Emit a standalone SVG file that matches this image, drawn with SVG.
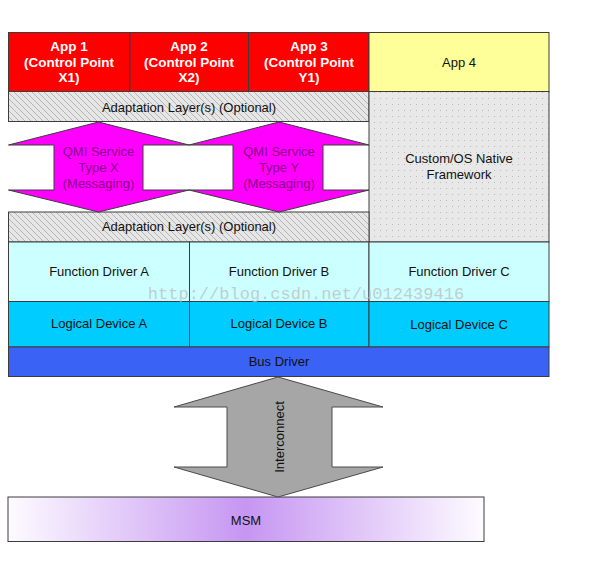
<svg xmlns="http://www.w3.org/2000/svg" width="593" height="564" viewBox="0 0 593 564">
<style>
text{font-family:"Liberation Sans",Arial,sans-serif;font-size:13px;text-anchor:middle;fill:#111}
.box{stroke:#3c3c3c;stroke-width:1}
.app{fill:#FF0000}
.apptxt{fill:#fff;font-weight:bold;font-size:13.5px}
.fd{fill:#CCFFFF}
.ld{fill:#00CCFF}
.qmi{fill:#FF00FF;stroke:#3c3c3c;stroke-width:1}
.qmitxt{fill:#8a008a}
.ic{fill:#A6A6A6;stroke:#4a4a4a;stroke-width:1}
</style>
<defs>
<pattern id="hatch" patternUnits="userSpaceOnUse" width="6" height="6">
<rect width="6" height="6" fill="#E6E6E6"/>
<path d="M-1,-1 L7,7 M-1,5 L1,7 M5,-1 L7,1" stroke="#A8A8A8" stroke-width="0.8"/>
</pattern>
<pattern id="dots" patternUnits="userSpaceOnUse" width="6" height="6">
<rect width="6" height="6" fill="#E8E8E8"/>
<rect x="2" y="2" width="1" height="1" fill="#B8B8B8"/>
</pattern>
<linearGradient id="msm" x1="0" y1="0" x2="1" y2="0">
<stop offset="0" stop-color="#FDFBFF"/>
<stop offset="0.5" stop-color="#C696F2"/>
<stop offset="1" stop-color="#FDFBFF"/>
</linearGradient>
</defs>
<rect width="593" height="564" fill="#fff"/>

<g id="app1"><rect class="box app" x="8.5" y="32.5" width="121.5" height="59"/>
<text class="apptxt" x="69" y="51">App 1</text><text class="apptxt" x="69" y="66.5">(Control Point</text><text class="apptxt" x="69" y="82">X1)</text></g>
<g id="app2"><rect class="box app" x="130" y="32.5" width="118.5" height="59"/>
<text class="apptxt" x="189" y="51">App 2</text><text class="apptxt" x="189" y="66.5">(Control Point</text><text class="apptxt" x="189" y="82">X2)</text></g>
<g id="app3"><rect class="box app" x="248.5" y="32.5" width="120.5" height="59"/>
<text class="apptxt" x="309" y="51">App 3</text><text class="apptxt" x="309" y="66.5">(Control Point</text><text class="apptxt" x="309" y="82">Y1)</text></g>
<g id="app4"><rect class="box" fill="#FFFF99" x="369" y="32.5" width="180" height="59"/>
<text x="459" y="67">App 4</text></g>

<g id="adapt1"><rect class="box" fill="url(#hatch)" x="8.5" y="91.5" width="360.5" height="30"/>
<text x="189" y="112">Adaptation Layer(s) (Optional)</text></g>
<g id="custom"><rect class="box" fill="url(#dots)" x="369" y="91.5" width="180" height="150.5"/>
<text x="459" y="163">Custom/OS Native</text><text x="459" y="179">Framework</text></g>
<g id="adapt2"><rect class="box" fill="url(#hatch)" x="8.5" y="212" width="360.5" height="30"/>
<text x="189" y="231">Adaptation Layer(s) (Optional)</text></g>

<g id="fdA"><rect class="box fd" x="8.5" y="242" width="181" height="59.5"/><text x="99" y="276">Function Driver A</text></g>
<g id="fdB"><rect class="box fd" x="189.5" y="242" width="179.5" height="59.5"/><text x="279" y="276">Function Driver B</text></g>
<g id="fdC"><rect class="box fd" x="369" y="242" width="180" height="59.5"/><text x="459" y="276">Function Driver C</text></g>
<g id="ldA"><rect class="box ld" x="8.5" y="301.5" width="181" height="45.5"/><text x="99" y="328">Logical Device A</text></g>
<g id="ldB"><rect class="box ld" x="189.5" y="301.5" width="179.5" height="45.5"/><text x="279" y="328">Logical Device B</text></g>
<g id="ldC"><rect class="box ld" x="369" y="301.5" width="180" height="45.5"/><text x="459" y="329">Logical Device C</text></g>
<g id="bus"><rect class="box" fill="#3A62F5" x="8.5" y="347" width="540.5" height="29.5"/><text x="279" y="365.5">Bus Driver</text></g>

<g id="msm"><rect class="box" fill="url(#msm)" x="8" y="497" width="476" height="44.5"/><text x="246" y="524.5" fill="#2a1040">MSM</text></g>

<g id="connectors">
<g id="qmiX"><polygon class="qmi" points="98.5,122 189,145 143,145 143,190 189,190 98.5,212 8.5,190 54,190 54,145 8.5,145"/>
<text class="qmitxt" x="98.5" y="155.5">QMI Service</text><text class="qmitxt" x="98.5" y="171.5">Type X</text><text class="qmitxt" x="98.5" y="188">(Messaging)</text></g>
<g id="qmiY"><polygon class="qmi" points="279,122 369,145 323,145 323,190 369,190 279,212 189,190 233,190 233,145 189,145"/>
<text class="qmitxt" x="279" y="155.5">QMI Service</text><text class="qmitxt" x="279" y="171.5">Type Y</text><text class="qmitxt" x="279" y="188">(Messaging)</text></g>
<g id="interconnect"><polygon class="ic" points="278,377 383,407 332,407 332,467 383,467 278,497 174,467 227,467 227,407 174,407"/>
<text x="0" y="0" transform="translate(283.5,437) rotate(-90)">Interconnect</text></g>
</g>

<text x="306" y="299" style="font-family:'Liberation Mono','DejaVu Sans Mono',monospace;font-size:17px;fill:#bdbdbd;fill-opacity:0.75">http://blog.csdn.net/u012439416</text>
</svg>
